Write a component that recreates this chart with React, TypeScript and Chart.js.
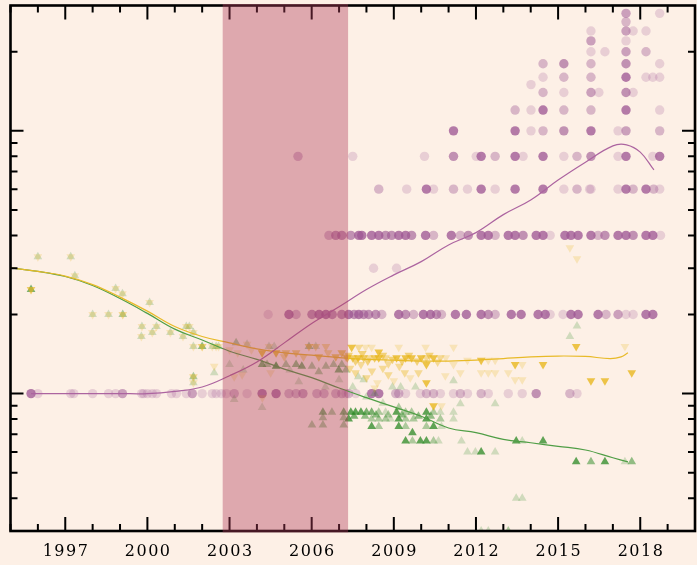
import React, { useEffect, useRef } from "react";
import { Chart, registerables } from "chart.js";

Chart.register(...registerables);

// ---------- axes ----------
const X_MIN = 1995;
const X_MAX = 2020;
const Y_MIN = 0.3;
const Y_MAX = 30;
const majorYears = [1997, 2000, 2003, 2006, 2009, 2012, 2015, 2018];
const minorYears = [1995, 1996, 1998, 1999, 2001, 2002, 2004, 2005, 2007, 2008, 2010, 2011, 2013, 2014, 2016, 2017, 2019];
const yMajorTicks = [1, 10];
const yMinorTicks = [0.4, 0.5, 0.6, 0.7, 0.8, 0.9, 2, 3, 4, 5, 6, 7, 8, 9, 20];
const shadeStart = 2002.75;
const shadeEnd = 2007.33;

// ---------- purple circles: [year, overlapping count] per value row ----------
const purpleAt1 = [[1995.75,6],[1996.0,1],[1997.2,1],[1997.31,1],[1998.0,1],[1998.58,1],[1998.84,1],[1999.09,3],[1999.79,1],[1999.86,1],[2000.0,1],[2000.18,1],[2000.33,1],[2000.88,1],[2001.06,1],[2001.42,1],[2001.64,3],[2002.0,1],[2002.37,1],[2002.51,1],[2002.7,1],[2002.88,1],[2003.17,2],[2003.64,1],[2004.19,6],[2004.7,6],[2005.17,2],[2005.43,2],[2005.68,3],[2006.19,2],[2006.45,2],[2006.88,2],[2007.1,2],[2007.25,1],[2007.35,2],[2007.61,1],[2008.19,6],[2008.45,6],[2009.07,2],[2009.18,2],[2009.43,1],[2009.97,1],[2010.19,2],[2010.45,2],[2010.7,1],[2011.18,1],[2011.43,2],[2011.69,1],[2012.19,2],[2012.45,1],[2013.18,1],[2013.69,1],[2014.2,4],[2015.43,2],[2015.69,1]];
const purpleAt2 = [[2004.41,1],[2005.17,6],[2005.43,2],[2006.01,4],[2006.27,6],[2006.52,6],[2006.75,4],[2007.1,4],[2007.35,6],[2007.55,4],[2007.72,6],[2007.9,4],[2008.08,4],[2008.34,4],[2008.56,2],[2009.18,6],[2009.43,4],[2009.72,2],[2010.08,6],[2010.34,6],[2010.56,4],[2010.74,2],[2011.25,6],[2011.65,6],[2012.19,6],[2012.45,4],[2012.7,2],[2013.29,6],[2013.65,6],[2014.27,6],[2014.53,6],[2014.71,1],[2015.18,1],[2015.47,6],[2015.73,6],[2016.46,6],[2016.75,2],[2017.19,3],[2017.48,1],[2017.74,1],[2018.21,6],[2018.46,6]];
const purpleAt3 = [[2008.26,1],[2009.1,1]];
const purpleAt4 = [[2006.63,2],[2006.88,4],[2007.1,4],[2007.43,4],[2007.72,6],[2007.83,6],[2008.19,6],[2008.45,6],[2008.7,4],[2008.92,4],[2009.18,6],[2009.43,6],[2009.65,4],[2010.16,6],[2010.45,2],[2011.1,6],[2011.43,2],[2011.72,4],[2012.19,6],[2012.45,6],[2012.7,2],[2013.18,6],[2013.43,6],[2013.72,4],[2014.2,6],[2014.45,6],[2014.71,1],[2015.25,6],[2015.47,6],[2015.73,6],[2016.2,6],[2016.46,2],[2016.71,4],[2017.19,6],[2017.48,6],[2017.74,4],[2018.21,6],[2018.46,6],[2018.74,1]];
const purpleAt6 = [[2008.45,2],[2009.47,1],[2010.19,6],[2010.45,1],[2011.18,2],[2011.69,1],[2012.19,6],[2012.7,1],[2013.43,6],[2014.45,6],[2015.21,1],[2015.69,2],[2016.15,1],[2016.2,1],[2017.19,1],[2017.48,6],[2017.74,2],[2018.21,6],[2018.49,2],[2018.71,1]];
const purpleAt8 = [[2005.5,2],[2007.5,1],[2010.12,1],[2011.18,4],[2012.01,1],[2012.19,6],[2012.7,2],[2013.43,6],[2013.72,1],[2014.45,6],[2015.21,1],[2015.69,2],[2016.2,4],[2017.19,1],[2017.48,6],[2018.46,1],[2018.71,6]];
const purpleAt10 = [[2011.18,6],[2013.43,6],[2014.01,1],[2014.45,2],[2015.21,4],[2016.2,6],[2017.19,1],[2017.48,3],[2018.71,2]];
const purpleAt12 = [[2013.43,2],[2014.01,1],[2014.45,6],[2015.21,2],[2016.2,2],[2017.48,6],[2018.71,1]];
const purpleAt14 = [[2014.45,2],[2015.21,1],[2016.2,3],[2016.49,1],[2017.48,4],[2017.74,1]];
const purpleAt15 = [[2014.01,1]];
const purpleAt16 = [[2014.45,1],[2015.21,2],[2016.2,2],[2017.48,6],[2018.21,1],[2018.46,1],[2018.71,1]];
const purpleAt18 = [[2014.45,2],[2015.21,4],[2016.2,2],[2017.48,4],[2018.71,1]];
const purpleAt20 = [[2016.2,1],[2016.71,1],[2017.48,3],[2018.21,2]];
const purpleAt22 = [[2016.2,3],[2017.48,1]];
const purpleAt24 = [[2016.2,1],[2017.48,3],[2017.74,1],[2018.21,1]];
const purpleAt26 = [[2017.48,2]];
const purpleAt28 = [[2017.48,3],[2018.71,1]];
const purpleRowValues = [1, 2, 3, 4, 6, 8, 10, 12, 14, 15, 16, 18, 20, 22, 24, 26, 28];
const purpleRows = [purpleAt1, purpleAt2, purpleAt3, purpleAt4, purpleAt6, purpleAt8, purpleAt10, purpleAt12, purpleAt14, purpleAt15, purpleAt16, purpleAt18, purpleAt20, purpleAt22, purpleAt24, purpleAt26, purpleAt28];

// ---------- triangles: [year, value, overlapping count] ----------
const earlyShared = [[1995.75,2.49,4],[1996.0,3.32,1],[1997.2,3.32,1],[1997.35,2.81,1],[1998.0,2.0,1],[1998.58,2.0,1],[1998.84,2.51,1],[1999.09,2.4,1],[1999.1,2.0,2],[2000.08,2.22,1],[1999.8,1.8,1],[1999.78,1.65,1],[2000.33,1.8,1],[2000.18,1.71,1],[2000.84,1.71,1],[2001.3,1.65,1],[2001.42,1.8,1],[2001.53,1.8,1],[2001.68,1.71,1],[2001.68,1.51,1],[2002.0,1.51,3],[2002.37,1.51,1],[2002.51,1.51,1],[2002.6,1.51,1],[2001.68,1.16,2],[2001.68,1.1,1]];
const greenPoints = [[2002.44,1.2,1],[2003.24,1.56,2],[2003.17,0.95,1],[2003.64,1.54,1],[2004.19,1.29,4],[2004.37,1.29,2],[2004.7,1.27,6],[2005.06,1.29,2],[2005.43,1.29,3],[2005.64,1.27,4],[2006.01,1.27,2],[2006.26,1.21,2],[2006.52,1.27,2],[2006.99,1.23,4],[2007.25,1.23,2],[2005.53,1.11,1],[2004.19,0.885,1],[2006.01,0.76,2],[2006.41,0.85,4],[2006.41,0.81,2],[2006.41,0.76,2],[2006.74,0.85,2],[2007.17,0.85,4],[2007.17,0.81,2],[2007.17,0.76,2],[2004.44,1.51,1],[2004.63,1.51,1],[2005.9,1.51,2],[2006.15,1.51,1],[2003.0,1.29,1],[2003.5,1.23,1],[2005.2,1.23,1],[2006.8,1.29,2],[2007.1,1.29,2],[2007.0,1.13,1],[2006.5,1.06,1],
[2007.43,0.85,6],[2007.6,0.85,6],[2007.8,0.85,6],[2008.0,0.85,4],[2008.19,0.85,4],[2008.45,0.85,2],[2008.7,0.85,1],[2009.1,0.85,6],[2009.43,0.85,2],[2009.65,0.85,2],[2010.19,0.85,6],[2010.45,0.85,2],[2010.7,0.85,1],[2011.18,0.85,1],[2009.18,0.885,2],
[2007.35,0.8,6],[2008.19,0.8,2],[2008.45,0.8,2],[2008.7,0.8,2],[2008.88,0.8,1],[2009.18,0.8,6],[2009.43,0.8,2],[2009.72,0.8,2],[2010.19,0.8,6],[2010.7,0.8,2],[2011.18,0.8,1],
[2007.55,0.82,4],[2007.95,0.82,3],[2008.35,0.83,3],[2008.8,0.83,2],[2009.3,0.83,3],[2009.9,0.82,3],[2010.35,0.82,3],
[2008.19,0.75,6],[2008.45,0.75,2],[2009.18,0.75,6],[2009.43,0.75,2],[2010.19,0.75,2],[2010.45,0.75,6],[2010.74,0.75,1],[2009.68,0.71,6],
[2009.43,0.66,6],[2009.68,0.66,2],[2009.97,0.66,6],[2010.19,0.66,6],[2010.45,0.66,2],[2010.63,0.66,1],[2011.47,0.66,1],[2013.47,0.66,6],[2013.69,0.66,1],[2014.45,0.66,6],
[2011.69,0.6,1],[2011.98,0.6,1],[2012.19,0.6,6],[2012.7,0.6,1],
[2015.66,0.55,6],[2016.2,0.55,3],[2016.71,0.55,6],[2017.44,0.55,1],[2017.69,0.55,3],
[2011.43,0.916,1],[2012.7,0.916,1],[2008.95,1.06,1],[2009.79,1.06,1],[2011.18,1.12,1],[2015.43,1.65,1],[2015.69,1.81,1],[2013.47,0.4,1],[2013.69,0.4,1],[2012.19,0.3,1],[2012.45,0.3,1],[2013.18,0.3,2],[2007.5,1.06,1],[2008.0,0.97,1],[2008.3,1.0,1],[2009.25,1.06,1],[2007.9,1.13,1],[2008.6,0.92,1],[2007.7,1.16,1]];
const yellowPoints = [[2002.44,1.27,1],[2003.17,1.16,1],[2003.46,1.18,1],[2003.64,1.54,1],[2004.19,1.43,6],[2004.44,1.51,1],[2004.7,1.43,6],[2005.06,1.43,3],[2005.43,1.43,3],[2005.9,1.51,3],[2006.15,1.51,2],[2006.26,1.38,4],[2006.52,1.51,2],[2006.88,1.38,4],[2007.1,1.43,4],[2007.25,1.38,2],[2003.0,1.47,1],[2003.8,1.47,1],[2005.0,1.38,2],[2005.7,1.38,2],[2006.6,1.43,2],[2004.2,0.965,1],[2004.5,1.2,1],[2003.3,1.43,1],
[2007.46,1.5,6],[2007.72,1.5,2],[2007.97,1.5,1],[2008.19,1.5,1],[2008.45,1.44,6],[2009.18,1.5,1],[2010.16,1.5,1],[2011.18,1.5,1],[2015.66,1.51,6],[2017.44,1.51,1],
[2007.3,1.37,4],[2007.5,1.37,4],[2007.7,1.37,6],[2007.9,1.37,4],[2008.1,1.37,2],[2008.3,1.37,4],[2008.45,1.37,6],[2008.7,1.37,2],[2009.1,1.37,6],[2009.43,1.37,6],[2009.65,1.37,6],[2010.0,1.37,6],[2010.19,1.37,2],[2010.45,1.37,6],[2010.7,1.37,2],[2010.9,1.37,1],
[2007.35,1.4,3],[2007.6,1.33,3],[2007.85,1.42,3],[2008.05,1.33,3],[2008.6,1.4,3],[2008.95,1.35,3],[2009.3,1.33,3],[2009.55,1.4,3],[2009.85,1.33,3],[2010.3,1.4,3],[2010.6,1.32,2],
[2011.69,1.34,1],[2012.19,1.34,6],[2012.45,1.34,1],[2012.7,1.34,1],
[2010.19,1.29,6],[2011.18,1.29,1],[2013.43,1.29,6],[2013.69,1.29,1],[2014.45,1.29,6],
[2011.43,1.2,1],[2012.19,1.2,1],[2012.45,1.2,1],[2012.7,1.2,1],[2013.18,1.2,1],[2010.88,1.17,1],[2017.69,1.2,6],
[2010.19,1.1,6],[2013.43,1.13,1],[2013.69,1.13,1],[2016.2,1.12,6],[2016.71,1.12,6],
[2007.4,1.25,2],[2007.6,1.2,2],[2007.8,1.29,2],[2008.0,1.15,2],[2008.2,1.22,2],[2008.4,1.1,1],[2008.6,1.25,2],[2008.8,1.18,2],[2009.0,1.12,1],[2009.2,1.27,2],[2009.4,1.2,2],[2009.6,1.15,1],[2009.9,1.2,2],[2008.3,1.05,1],[2008.8,1.3,2],
[2010.45,0.9,6],[2010.74,0.9,1],[2015.43,3.59,1],[2015.69,3.26,1]];

// ---------- smoothed trends ----------
const purpleTrendX = [1995.75, 1997, 1998, 1999, 2000, 2001, 2002, 2003, 2004, 2005, 2006, 2007, 2008, 2009, 2010, 2011, 2012, 2013, 2014, 2015, 2016, 2017, 2017.5, 2018, 2018.5];
const purpleTrendY = [1.0, 1.0, 1.0, 1.0, 1.0, 1.02, 1.06, 1.17, 1.32, 1.56, 1.85, 2.14, 2.49, 2.83, 3.18, 3.68, 4.1, 4.8, 5.46, 6.5, 7.6, 8.77, 8.85, 8.3, 7.1];
const yellowTrendX = [1995, 1996, 1997, 1998, 1999, 2000, 2001, 2002, 2003, 2004, 2005, 2006, 2007, 2008, 2009, 2010, 2011, 2012, 2013, 2014, 2015, 2016, 2016.9, 2017.3, 2017.55];
const yellowTrendY = [3.01, 2.92, 2.8, 2.6, 2.33, 2.06, 1.8, 1.65, 1.56, 1.48, 1.43, 1.4, 1.37, 1.35, 1.34, 1.33, 1.33, 1.34, 1.36, 1.38, 1.39, 1.385, 1.36, 1.38, 1.43];
const greenTrendX = [1995, 1996, 1997, 1998, 1999, 2000, 2001, 2002, 2003, 2004, 2005, 2006, 2007, 2008, 2009, 2010, 2011, 2012, 2013, 2014, 2015, 2016, 2017, 2017.55];
const greenTrendY = [3.01, 2.92, 2.79, 2.58, 2.3, 2.02, 1.76, 1.6, 1.45, 1.35, 1.24, 1.15, 1.05, 0.965, 0.89, 0.82, 0.74, 0.71, 0.67, 0.65, 0.63, 0.61, 0.57, 0.55];

const BG = "#fdf0e6";
const PURPLE = [158, 88, 148];
const GREEN = [50, 140, 42];
const YELLOW = [232, 181, 24];

function alphaFor(n: number) {
  return 1 - Math.pow(0.78, n);
}
function colorFn(rgb: number[]) {
  return (ctx: any) => {
    const n = ctx.raw && ctx.raw.n ? ctx.raw.n : 1;
    return `rgba(${rgb[0]},${rgb[1]},${rgb[2]},${alphaFor(n).toFixed(3)})`;
  };
}

const framePlugin = {
  id: "frame",
  beforeDraw(chart: any) {
    const ctx = chart.ctx;
    ctx.save();
    ctx.fillStyle = BG;
    ctx.fillRect(0, 0, chart.width, chart.height);
    ctx.restore();
  },
  afterDraw(chart: any) {
    const { ctx, chartArea: a, scales } = chart;
    const xs = scales.x;
    const ys = scales.y;
    ctx.save();
    ctx.strokeStyle = "#000";
    ctx.lineWidth = 2;
    ctx.beginPath();
    const xTick = (v: number, len: number) => {
      const px = xs.getPixelForValue(v);
      ctx.moveTo(px, a.bottom);
      ctx.lineTo(px, a.bottom - len);
      ctx.moveTo(px, a.top);
      ctx.lineTo(px, a.top + len);
    };
    minorYears.forEach((v) => xTick(v, 7));
    majorYears.forEach((v) => xTick(v, 14));
    const yTick = (v: number, len: number) => {
      const py = ys.getPixelForValue(v);
      ctx.moveTo(a.left, py);
      ctx.lineTo(a.left + len, py);
      ctx.moveTo(a.right, py);
      ctx.lineTo(a.right - len, py);
    };
    yMinorTicks.forEach((v) => yTick(v, 7));
    yMajorTicks.forEach((v) => yTick(v, 13));
    ctx.stroke();
    ctx.lineWidth = 2.6;
    ctx.strokeRect(a.left, a.top, a.right - a.left, a.bottom - a.top);

    ctx.fillStyle = "#000";
    ctx.font = '16px "DejaVu Serif"';
    try {
      (ctx as any).letterSpacing = "1.5px";
    } catch (e) {}
    ctx.textAlign = "center";
    ctx.textBaseline = "alphabetic";
    majorYears.forEach((v) => {
      ctx.fillText(String(v), xs.getPixelForValue(v) + 0.75, 556);
    });
    try {
      (ctx as any).letterSpacing = "0px";
    } catch (e) {}

    const x0 = xs.getPixelForValue(shadeStart);
    const x1 = xs.getPixelForValue(shadeEnd);
    ctx.fillStyle = "rgba(175,60,90,0.4)";
    ctx.fillRect(x0, a.top - 1.5, x1 - x0, a.bottom - a.top + 3);
    ctx.restore();
  },
};

function buildConfig(): any {
  const purpleData: any[] = [];
  purpleRows.forEach((row, i) => {
    row.forEach(([yr, n]) => purpleData.push({ x: yr, y: purpleRowValues[i], n }));
  });
  const toPts = (arr: number[][]) => arr.map(([x, y, n]) => ({ x, y, n }));
  const greenData = toPts(earlyShared.concat(greenPoints));
  const yellowData = toPts(earlyShared.concat(yellowPoints));
  const trend = (xs: number[], ysArr: number[]) => xs.map((x, i) => ({ x, y: ysArr[i] }));
  const lineDs = (data: any[], color: string) => ({
    type: "line",
    data,
    borderColor: color,
    borderWidth: 1.2,
    pointRadius: 0,
    fill: false,
    tension: 0.4,
    showLine: true,
  });
  const ptDs = (data: any[], rgb: number[], style: string, rot: number, r: number) => ({
    type: "scatter",
    data,
    pointStyle: style,
    rotation: rot,
    pointRadius: r,
    pointHoverRadius: r,
    pointBorderWidth: 0,
    borderWidth: 0,
    borderColor: "rgba(0,0,0,0)",
    backgroundColor: colorFn(rgb),
    pointBackgroundColor: colorFn(rgb),
  });
  return {
    type: "scatter",
    data: {
      datasets: [
        lineDs(trend(purpleTrendX, purpleTrendY), "rgb(172,100,160)"),
        lineDs(trend(yellowTrendX, yellowTrendY), "rgb(232,186,40)"),
        lineDs(trend(greenTrendX, greenTrendY), "rgb(80,158,70)"),
        ptDs(yellowData, YELLOW, "triangle", 180, 5),
        ptDs(greenData, GREEN, "triangle", 0, 5),
        ptDs(purpleData, PURPLE, "circle", 0, 4.7),
      ],
    },
    options: {
      responsive: false,
      animation: false,
      devicePixelRatio: 1,
      layout: { padding: { left: 10.5, right: 2.5, top: 5.5, bottom: 34 } },
      plugins: { legend: { display: false }, tooltip: { enabled: false } },
      events: [],
      scales: {
        x: { type: "linear", min: X_MIN, max: X_MAX, display: false },
        y: { type: "logarithmic", min: Y_MIN, max: Y_MAX, display: false },
      },
    },
    plugins: [framePlugin],
  };
}

export default function App() {
  const ref = useRef<HTMLCanvasElement>(null);
  useEffect(() => {
    if (!ref.current) return;
    const chart = new Chart(ref.current, buildConfig());
    return () => chart.destroy();
  }, []);
  return (
    <div
      style={{
        position: "fixed",
        left: 0,
        top: 0,
        width: 697,
        height: 565,
        overflow: "hidden",
        background: BG,
      }}
    >
      <canvas ref={ref} width={700} height={565} style={{ display: "block", width: 700, height: 565 }} />
    </div>
  );
}
